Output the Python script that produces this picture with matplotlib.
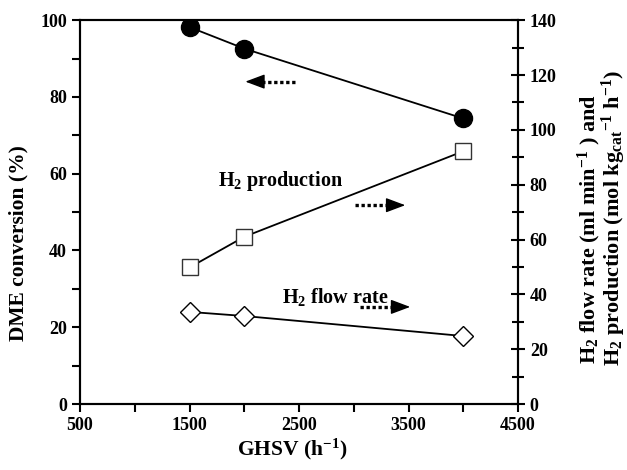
import matplotlib
matplotlib.use("Agg")
import matplotlib.pyplot as plt
from matplotlib.ticker import MultipleLocator

plt.rcParams['font.family'] = ['Liberation Serif', 'DejaVu Serif']
plt.rcParams['font.weight'] = 'bold'
plt.rcParams['mathtext.fontset'] = 'custom'
plt.rcParams['mathtext.rm'] = 'Liberation Serif:bold'
plt.rcParams['mathtext.it'] = 'Liberation Serif:bold'
plt.rcParams['mathtext.bf'] = 'Liberation Serif:bold'

ghsv = [1500, 2000, 4000]
dme_conversion = [98.2, 92.6, 74.4]
h2_production = [49.8, 61.0, 92.2]
h2_flow_rate = [33.6, 32.1, 24.8]
x_major = [500, 1500, 2500, 3500, 4500]
x_minor = [1000, 2000, 3000, 4000]

fig = plt.figure(figsize=(6.27, 4.70), dpi=100)
ax = fig.add_axes([0.1276, 0.1404, 0.6986, 0.8166])
ax2 = ax.twinx()

ax.plot(ghsv, dme_conversion, '-', color='black', lw=1.3, marker='o', ms=13,
        mfc='black', mec='black', zorder=3)
ax2.plot(ghsv, h2_production, '-', color='black', lw=1.3, marker='s', ms=12,
         mfc='white', mec='#333333', mew=1.0, zorder=3)
ax2.plot(ghsv, h2_flow_rate, '-', color='black', lw=1.3, marker='D', ms=10,
         mfc='white', mec='black', mew=1.0, zorder=3)

ax.set_xlim(500, 4500)
ax.set_ylim(0, 100)
ax2.set_ylim(0, 140)
ax.set_xticks(x_major)
ax.set_xticks(x_minor, minor=True)
ax.yaxis.set_major_locator(MultipleLocator(20))
ax.yaxis.set_minor_locator(MultipleLocator(10))
ax2.yaxis.set_major_locator(MultipleLocator(20))
ax2.yaxis.set_minor_locator(MultipleLocator(10))

for a in (ax, ax2):
    for s in a.spines.values():
        s.set_linewidth(1.5)
    a.tick_params(which='major', direction='out', length=6, width=1.5, labelsize=13)
    a.tick_params(which='minor', direction='out', length=6, width=1.5)
ax2.tick_params(which='both', direction='inout')
ax2.tick_params(which='major', length=10)
ax2.tick_params(which='minor', length=8)
ax.xaxis.set_ticks_position('bottom')

for lab in ax.get_xticklabels() + ax.get_yticklabels() + ax2.get_yticklabels():
    lab.set_fontweight('bold')

ax.set_xlabel('GHSV (h$^{-1}$)', fontsize=15.5, fontweight='bold')
ax.xaxis.set_label_coords(0.484, -0.085)
ax.set_ylabel('DME conversion (%)', fontsize=15.5, fontweight='bold')
ax.yaxis.set_label_coords(-0.118, 0.42)

fig.text(595 / 627, 1 - 364 / 470, 'H$_2$ flow rate (ml min$^{-1}$ ) and',
         fontsize=16, fontweight='bold', rotation=90, rotation_mode='anchor',
         ha='left', va='baseline')
fig.text(620 / 627, 1 - 366 / 470,
         'H$_2$ production (mol kg$_{\\mathrm{cat}}$$^{-1}$ h$^{-1}$)',
         fontsize=16, fontweight='bold', rotation=90, rotation_mode='anchor',
         ha='left', va='baseline')

ax.text(1760, 58, 'H$_2$ production', fontsize=14.5, fontweight='bold', va='center', ha='left')
ax.text(2345, 27.9, 'H$_2$ flow rate', fontsize=14.5, fontweight='bold', va='center', ha='left')

def dotted_arrow(x0, x1, y):
    direction = 1 if x1 > x0 else -1
    xb = x1 - direction * 140
    ax.plot([x0, xb], [y, y], linestyle=(0, (1, 0.8)), color='black', lw=2.4,
            solid_capstyle='butt', dash_capstyle='butt')
    ax.annotate('', xy=(x1, y), xytext=(xb, y),
                arrowprops=dict(arrowstyle='-|>,head_length=1.2,head_width=0.45',
                                color='black', lw=1.0, shrinkA=0, shrinkB=0))

dotted_arrow(2460, 2010, 84.0)
dotted_arrow(3010, 3470, 51.8)
dotted_arrow(3055, 3515, 25.3)

fig.savefig('out.png', dpi=100)
